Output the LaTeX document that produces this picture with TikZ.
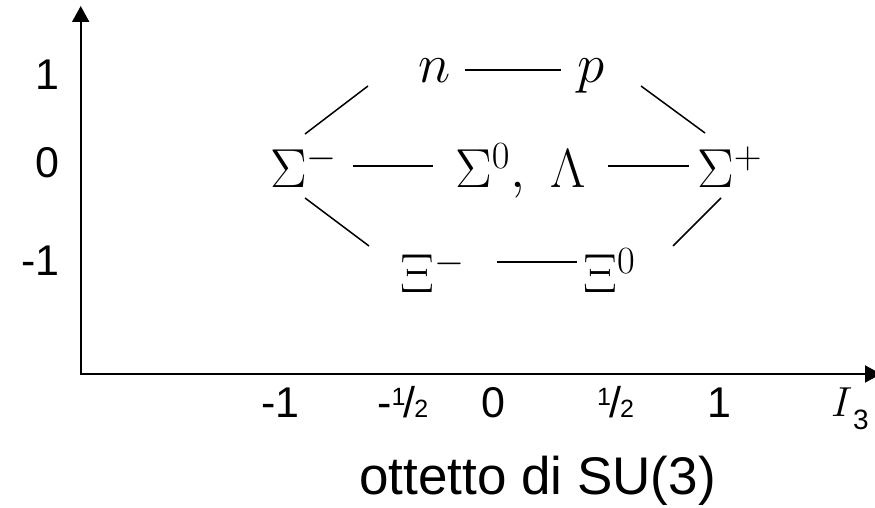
\RequirePackage{fix-cm}
\documentclass[tikz,border=0pt]{standalone}
\usepackage{fontspec}
\newfontfamily\arialf{Liberation Sans}
\usetikzlibrary{arrows.meta,calc}
\newcommand\myhalf{\mbox{\raisebox{12pt}{\fontsize{25}{25}\selectfont 1}\kern-1.5pt/\kern-1.5pt{\fontsize{25}{25}\selectfont 2}}}
\begin{document}
\begin{tikzpicture}[x=1pt,y=1pt,
  part/.style={inner sep=0pt, font=\fontsize{55}{66}\selectfont},
  lab/.style={inner sep=0pt, font=\arialf\fontsize{43}{50}\selectfont},
  ttl/.style={inner sep=0pt, font=\arialf\fontsize{53}{64}\selectfont},
  link/.style={line width=1.5pt},
  axis/.style={line width=2pt, line join=miter,
    {Triangle[width=17pt,length=16pt]}-{Triangle[width=17pt,length=16pt]}}]
\useasboundingbox (0,0) rectangle (875,508);
\clip (0,0) rectangle (875,508);
% axes
\coordinate (top) at (80.7,502);
\coordinate (origin) at (80.7,134);
\coordinate (right) at (881,134);
\draw[axis] (top) -- (origin) -- (right);
% axis labels
\node[lab, anchor=base east] (y1) at (60,418) {1};
\node[lab, anchor=base east] (y0) at (60,330) {0};
\node[lab, anchor=base east] (ym1) at (60,232) {-1};
\node[lab, anchor=base west] (xm1) at (261,90) {-1};
\node[lab, anchor=base west] (xmh) at (377,90) {-\myhalf};
\node[lab, anchor=base west] (x0l) at (481,90) {0};
\node[lab, anchor=base west] (xh) at (597,90) {\myhalf};
\node[lab, anchor=base west] (x1) at (707,90) {1};
\node[inner sep=0pt, anchor=base west, font=\fontsize{42}{50}\selectfont] (I) at (831,91) {$I$};
\node[inner sep=0pt, anchor=base west, font=\arialf\fontsize{28}{32}\selectfont] (I3) at ($(I.base east)+(0,-13)$) {3};
\node[ttl, anchor=base] (title) at (537.5,13) {ottetto di SU(3)};
% particles
\node[part, anchor=base] (n) at (435,425) {$n$};
\node[part, anchor=base] (p) at (591,425) {$p$};
\node[part, anchor=base west] (sm) at (270,320) {$\Sigma^-$};
\node[part, anchor=base west] (s0) at (455,320) {$\Sigma^0,\ \Lambda$};
\node[part, anchor=base west] (sp) at (697,320) {$\Sigma^+$};
\node[part, anchor=base west] (xm) at (400,215) {$\Xi^-$};
\node[part, anchor=base west] (x0) at (583,215) {$\Xi^0$};
% connectors
\draw[link] ($(n.base)+(30,13)$) -- ($(p.base)+(-30,13)$);
\draw[link] ($(sm.base west)+(83,22)$) -- ($(s0.base west)+(-22,22)$);
\draw[link] ($(s0.base west)+(153,22)$) -- ($(sp.base west)+(-8,22)$);
\draw[link] ($(xm.base west)+(97,31)$) -- ($(x0.base west)+(-6,31)$);
\draw[link] ($(sm.base west)+(35,54)$) -- ($(n.base)+(-67,-3)$);
\draw[link] ($(p.base)+(50,-3)$) -- ($(sp.base west)+(8,55)$);
\draw[link] ($(sm.base west)+(35,-10)$) -- ($(xm.base west)+(-31,47)$);
\draw[link] ($(sp.base west)+(24,-10)$) -- ($(x0.base west)+(90,47)$);
\end{tikzpicture}
\end{document}
